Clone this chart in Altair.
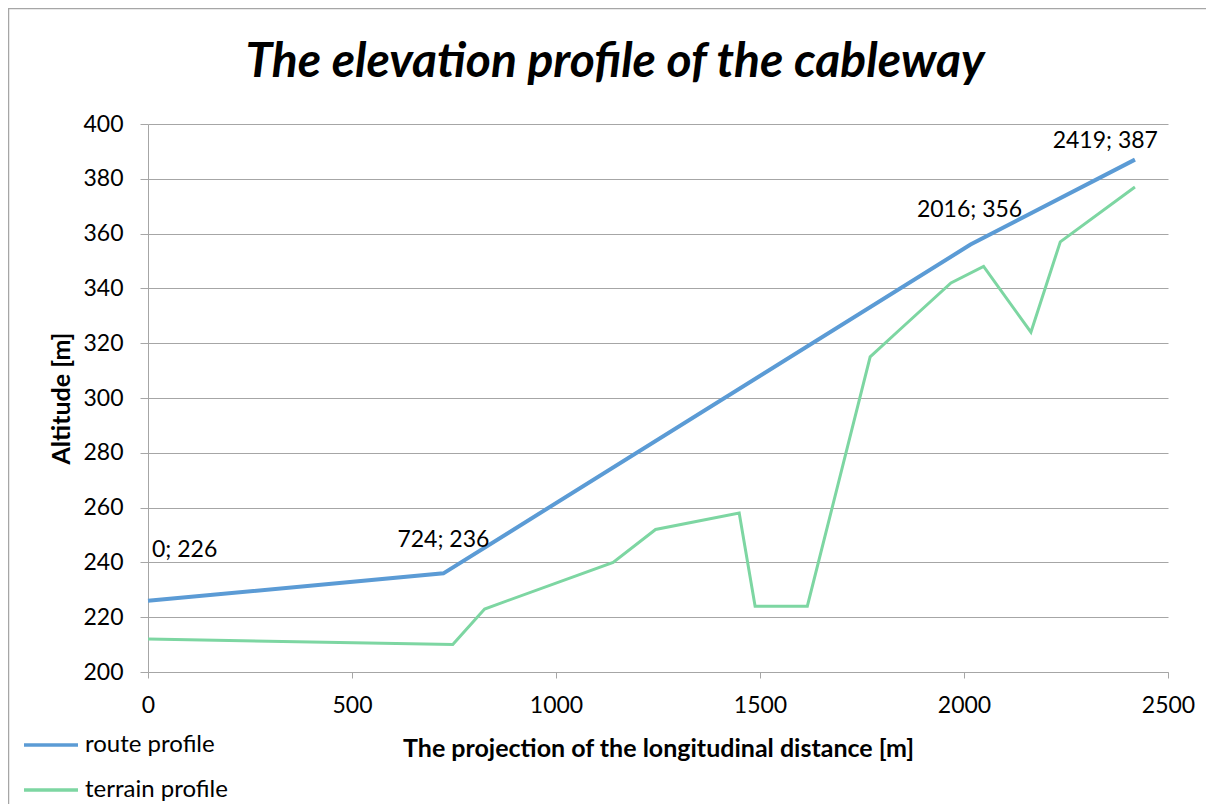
import altair as alt
import pandas as pd

# ---- data ----
series_names = ["route profile", "terrain profile"]
series_colors = ["#5B9BD5", "#7DD6A2"]

route_x = [0, 724, 2016, 2419]
route_y = [226, 236, 356, 387]

terrain_x = [0, 747, 825, 1140, 1244, 1449, 1488, 1616, 1770, 1843, 1968, 2048, 2164, 2236, 2419]
terrain_y = [212, 210, 223, 240, 252, 258, 224, 224, 315, 325, 342, 348, 324, 357, 377]

x_ticks = [0, 500, 1000, 1500, 2000, 2500]
y_ticks = [200, 220, 240, 260, 280, 300, 320, 340, 360, 380, 400]

title_text = "The elevation profile of the cableway"
x_title = "The projection of the longitudinal distance [m]"
y_title = "Altitude [m]"

# label placement styles (align, dx, dy) for each route point label
label_styles = [("left", 4, -51), ("center", 0, -33), ("center", -1, -35), ("right", 23, -19)]

FONT = "Lato"
GRID = "#A6A6A6"
W, H = 1020, 548
TXT = 23

route_df = pd.DataFrame({"x": route_x, "y": route_y, "series": series_names[0]})
terrain_df = pd.DataFrame({"x": terrain_x, "y": terrain_y, "series": series_names[1]})
label_df = pd.DataFrame({
    "x": route_x,
    "y": route_y,
    "i": list(range(len(route_x))),
    "label": [f"{a}; {b}" for a, b in zip(route_x, route_y)],
})

xenc = alt.X("x:Q", scale=alt.Scale(domain=[0, 2500], nice=False),
             axis=alt.Axis(values=x_ticks, format="d", grid=False, title=x_title,
                           tickSize=6, labelPadding=16, labelFontSize=TXT,
                           labelFont=FONT, titleFont=FONT, titleFontSize=25,
                           titleFontWeight="bold", titleBaseline="middle",
                           titleY=76, domainColor=GRID, tickColor=GRID,
                           labelColor="#000", titleColor="#000",
                           labelFlush=False, labelOverlap=False))
yenc = alt.Y("y:Q", scale=alt.Scale(domain=[200, 400], nice=False),
             axis=alt.Axis(values=y_ticks, format="d", grid=True, gridColor=GRID, title=y_title,
                           tickSize=8, labelPadding=17, labelFontSize=TXT,
                           labelFont=FONT, titleFont=FONT, titleFontSize=25,
                           titleFontWeight="bold", titleAngle=-90,
                           titleBaseline="middle", titleAlign="center",
                           titleX=-87, titleY=H / 2,
                           domainColor=GRID, tickColor=GRID,
                           labelColor="#000", titleColor="#000",
                           labelFlush=False, labelOverlap=False))

color = alt.Color("series:N",
                  scale=alt.Scale(domain=series_names, range=series_colors),
                  legend=alt.Legend(title=None, orient="none", legendX=-126, legendY=592,
                                    direction="vertical", symbolType="stroke",
                                    symbolSize=2916, symbolStrokeWidth=3.5,
                                    labelFont=FONT, labelFontSize=24, labelColor="#000",
                                    labelOffset=5, rowPadding=4))

frame = alt.Chart(pd.DataFrame({"a": [0]})).mark_rect(
    fill=None, stroke="#A6A6A6", strokeWidth=1.5, clip=False
).encode(x=alt.value(-139.5), x2=alt.value(W + 200), y=alt.value(-115.5), y2=alt.value(H + 300))

title_mark = alt.Chart(pd.DataFrame({"t": [title_text]})).mark_text(
    font=FONT, fontSize=48, fontWeight="bold", fontStyle="italic", color="#000",
    align="center", baseline="alphabetic"
).encode(x=alt.value(467), y=alt.value(-47), text="t:N")

terrain_line = alt.Chart(terrain_df).mark_line(strokeWidth=3).encode(x=xenc, y=yenc, color=color)
route_line = alt.Chart(route_df).mark_line(strokeWidth=4).encode(x="x:Q", y="y:Q", color=alt.Color("series:N"))

labels = []
for k, (al, dx, dy) in enumerate(label_styles):
    labels.append(
        alt.Chart(label_df).transform_filter(alt.datum.i == k).mark_text(
            align=al, baseline="middle", dx=dx, dy=dy, font=FONT, fontSize=TXT, color="#000"
        ).encode(x="x:Q", y="y:Q", text="label:N")
    )

chart = alt.layer(frame, title_mark, terrain_line, route_line, *labels).properties(
    width=W, height=H,
    autosize=alt.AutoSizeParams(type="none"),
    padding={"left": 140, "top": 116, "right": 38, "bottom": 132},
).configure_view(stroke=None)

chart.save("out.html", embed_options={"renderer": "svg", "actions": False})
